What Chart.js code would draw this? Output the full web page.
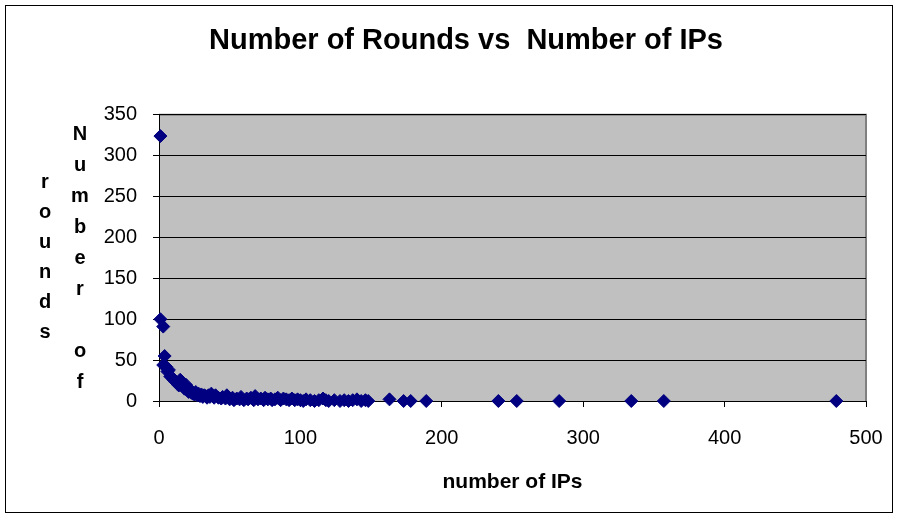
<!DOCTYPE html>
<html lang="en">
<head>
  <meta charset="UTF-8">
  <title>Number of Rounds vs Number of IPs</title>
  <script src="https://cdn.jsdelivr.net/npm/chart.js"></script>
  <style>
    html, body { margin: 0; padding: 0; background: #fff; }
    #wrap { width: 898px; height: 519px; position: relative; }
  </style>
</head>
<body>
  <div id="wrap"><canvas id="chart"></canvas></div>

  <script>
    // number of IPs (x) and number of rounds (y)
    const ipCounts = [1, 1, 3, 4, 3, 5, 6, 7, 8, 9, 10, 11, 12, 13, 14, 15, 16, 17, 18, 19,
      20, 21, 22, 23, 24, 25, 26, 27, 28, 29, 30, 31, 32, 33, 34, 35, 36, 37, 38, 39,
      40, 42, 44, 45, 47, 48, 50, 52, 53, 55, 57, 58, 60, 62, 63, 65, 67, 68, 70, 72,
      74, 75, 77, 79, 80, 82, 84, 86, 88, 90, 92, 94, 96, 98, 100, 102, 104, 107, 110, 113,
      116, 118, 120, 124, 128, 131, 134, 137, 140, 143, 146, 148, 163, 173, 178, 189,
      240, 253, 283, 334, 357, 479];
    const roundCounts = [324, 100, 91, 55, 44, 42, 36, 38, 30, 29, 27, 25, 23, 21, 19, 26, 22, 18, 15, 20,
      13, 11, 14, 10, 9, 8, 11, 7, 9, 6, 8, 5, 7, 6, 4, 7, 5, 9, 6, 4,
      7, 4, 3, 5, 3, 7, 2, 4, 1, 3, 2, 5, 1, 3, 2, 4, 1, 6, 2, 3,
      1, 4, 2, 3, 1, 2, 4, 1, 3, 2, 1, 3, 1, 2, 1, 0, 2, 1, 0, 1,
      3, 1, 0, 1, 0, 1, 0, 1, 2, 0, 1, 0, 2, 0, 0, 0,
      0, 0, 0, 0, 0, 0];

    const xTicks = [0, 100, 200, 300, 400, 500];
    const yTicks = [0, 50, 100, 150, 200, 250, 300, 350];

    const titleText = 'Number of Rounds vs  Number of IPs';
    const xTitle = 'number of IPs';
    const yTitleCol1 = ['N', 'u', 'm', 'b', 'e', 'r', '', 'o', 'f'];
    const yTitleCol2 = ['r', 'o', 'u', 'n', 'd', 's'];

    const FONT = "'Liberation Sans', Arial, sans-serif";
    Chart.defaults.font.family = FONT;
    Chart.defaults.color = '#000';

    const points = ipCounts.map((x, i) => ({ x: x, y: roundCounts[i] }));

    // white background, outer frame, grey plot area
    const frame = {
      id: 'frame',
      beforeDraw(chart) {
        const ctx = chart.ctx;
        const a = chart.chartArea;
        ctx.save();
        ctx.fillStyle = '#fff';
        ctx.fillRect(0, 0, chart.width, chart.height);
        ctx.strokeStyle = '#000';
        ctx.lineWidth = 1;
        ctx.strokeRect(5.5, 5.5, 887, 507);
        ctx.fillStyle = '#c0c0c0';
        ctx.fillRect(a.left, a.top, a.right - a.left, a.bottom - a.top);
        ctx.strokeStyle = '#808080';
        ctx.lineWidth = 2;
        ctx.beginPath();
        ctx.moveTo(a.left, a.top);
        ctx.lineTo(a.right, a.top);
        ctx.lineTo(a.right, a.bottom);
        ctx.stroke();
        ctx.restore();
      }
    };

    // stacked letters of the y axis title
    const yTitle = {
      id: 'yTitle',
      afterDraw(chart) {
        const ctx = chart.ctx;
        ctx.save();
        ctx.font = 'bold 20px ' + FONT;
        ctx.fillStyle = '#000';
        ctx.textAlign = 'center';
        ctx.textBaseline = 'middle';
        yTitleCol1.forEach((c, i) => ctx.fillText(c, 80, 134 + i * 31));
        yTitleCol2.forEach((c, i) => ctx.fillText(c, 45, 182 + i * 30));
        ctx.restore();
      }
    };

    new Chart(document.getElementById('chart').getContext('2d'), {
      type: 'scatter',
      data: {
        datasets: [{
          data: points,
          pointStyle: 'rectRot',
          pointRadius: 6.5,
          pointHoverRadius: 6.5,
          backgroundColor: '#000080',
          borderColor: '#000080',
          borderWidth: 1,
          clip: false
        }]
      },
      options: {
        responsive: true,
        maintainAspectRatio: false,
        animation: false,
        layout: { padding: { left: 66, right: 32, top: 6, bottom: 0 } },
        scales: {
          x: {
            type: 'linear',
            min: 0,
            max: 500,
            afterBuildTicks: s => { s.ticks = xTicks.map(v => ({ value: v })); },
            afterFit: s => { s.height = 118; s.paddingLeft = 10; s.paddingRight = 10; },
            ticks: { font: { size: 20 }, padding: 19, maxRotation: 0 },
            grid: { drawOnChartArea: false, color: '#000', tickLength: 6 },
            border: { color: '#000', width: 1 },
            title: { display: true, text: xTitle, font: { size: 21, weight: 'bold' }, padding: { top: 0, bottom: 24 } }
          },
          y: {
            type: 'linear',
            min: 0,
            max: 350,
            afterBuildTicks: s => { s.ticks = yTicks.map(v => ({ value: v })); },
            afterFit: s => { s.width = 93; },
            ticks: { font: { size: 20 }, padding: 16 },
            grid: { color: '#000', tickLength: 6 },
            border: { color: '#000', width: 1 }
          }
        },
        plugins: {
          legend: { display: false },
          tooltip: { enabled: false },
          title: {
            display: true,
            text: titleText,
            font: { size: 29, weight: 'bold' },
            padding: { top: 18, bottom: 56 }
          }
        }
      },
      plugins: [frame, yTitle]
    });
  </script>
</body>
</html>
